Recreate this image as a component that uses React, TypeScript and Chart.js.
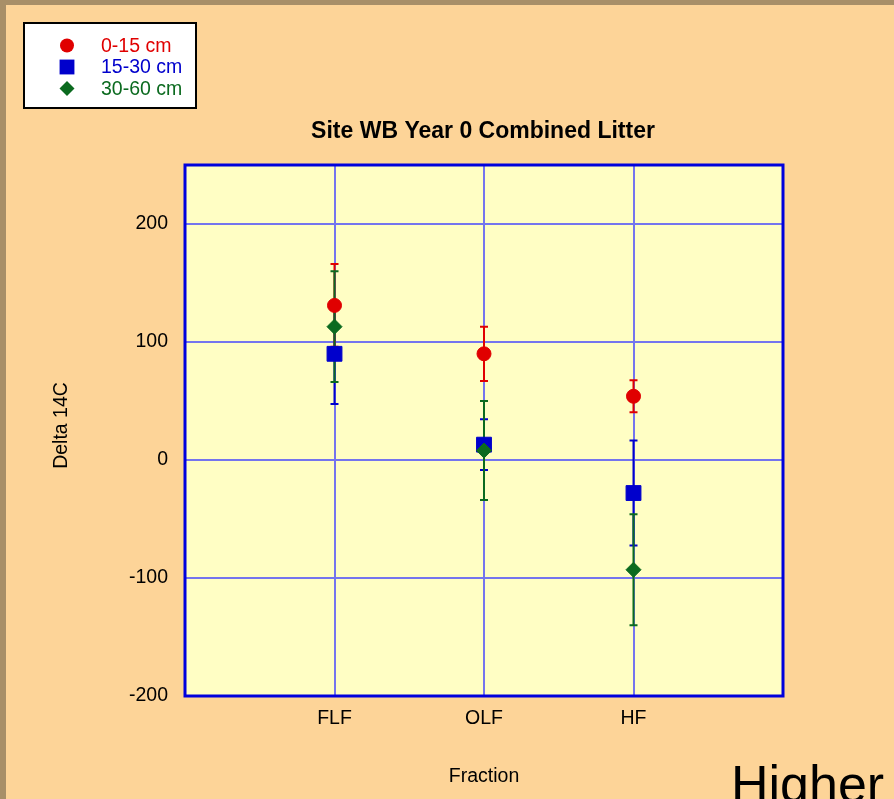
import React, { useEffect, useRef } from 'react';
import { Chart, registerables } from 'chart.js';

Chart.register(...registerables);

const categories = ['FLF', 'OLF', 'HF'];
const seriesLabels = ['0-15 cm', '15-30 cm', '30-60 cm'];
const seriesColors = ['#E00000', '#0000CC', '#0B6A1F'];
const seriesShapes = ['circle', 'rect', 'rectRot'];
const depth0to15 = [131, 90, 54];
const depth0to15Err = [35, 23, 13.5];
const depth15to30 = [90, 13, -28];
const depth15to30Err = [42.5, 21.5, 44.5];
const depth30to60 = [113, 8, -93];
const depth30to60Err = [47, 42, 47];
const yTicks = [-200, -100, 0, 100, 200];
const titleText = 'Site WB Year 0 Combined Litter';
const yTitle = 'Delta 14C';
const xTitle = 'Fraction';
const cornerText = 'Higher';

const FONT = '"Liberation Sans", Arial, Helvetica, sans-serif';
const seriesValues = [depth0to15, depth15to30, depth30to60];
const seriesErrors = [depth0to15Err, depth15to30Err, depth30to60Err];
const seriesRadius = [7, 10.5, 7.5];
const seriesOrder = [1, 2, 0];
const errorDrawOrder = [1, 0, 2];

function drawShape(ctx: CanvasRenderingContext2D, shape: string, x: number, y: number, r: number) {
  ctx.beginPath();
  if (shape === 'circle') {
    ctx.arc(x, y, r, 0, Math.PI * 2);
  } else if (shape === 'rect') {
    const s = r * Math.SQRT1_2;
    ctx.rect(x - s, y - s, 2 * s, 2 * s);
  } else {
    ctx.moveTo(x - r, y);
    ctx.lineTo(x, y - r);
    ctx.lineTo(x + r, y);
    ctx.lineTo(x, y + r);
    ctx.closePath();
  }
  ctx.fill();
}

const backgroundPlugin = {
  id: 'bgPlugin',
  beforeDraw(chart: any) {
    const { ctx, width, height, chartArea: a } = chart;
    ctx.save();
    ctx.fillStyle = '#A88F68';
    ctx.fillRect(0, 0, width, height);
    ctx.fillStyle = '#FDD498';
    ctx.fillRect(6, 5, width - 6, height - 5);
    ctx.fillStyle = '#FFFEC4';
    ctx.fillRect(a.left, a.top, a.right - a.left, a.bottom - a.top);
    ctx.restore();
  },
};

const errorBarPlugin = {
  id: 'errorBars',
  beforeDatasetsDraw(chart: any) {
    const { ctx } = chart;
    const xs = chart.scales.x;
    const ys = chart.scales.y;
    ctx.save();
    ctx.lineWidth = 2;
    for (const di of errorDrawOrder) {
      const ds = chart.data.datasets[di];
      ds.data.forEach((p: any, i: number) => {
        const e = seriesErrors[di][i];
        const px = xs.getPixelForValue(p.x);
        const top = ys.getPixelForValue(p.y + e);
        const bot = ys.getPixelForValue(p.y - e);
        ctx.strokeStyle = seriesColors[di];
        ctx.beginPath();
        ctx.moveTo(px, top);
        ctx.lineTo(px, bot);
        ctx.moveTo(px - 4, top);
        ctx.lineTo(px + 4, top);
        ctx.moveTo(px - 4, bot);
        ctx.lineTo(px + 4, bot);
        ctx.stroke();
      });
    }
    ctx.restore();
  },
};

const decorPlugin = {
  id: 'decor',
  afterDraw(chart: any) {
    const { ctx, chartArea: a } = chart;
    ctx.save();
    // plot frame
    ctx.strokeStyle = '#0000DD';
    ctx.lineWidth = 3;
    ctx.strokeRect(a.left, a.top, a.right - a.left, a.bottom - a.top);

    // title
    ctx.fillStyle = '#000';
    ctx.font = `bold 23px ${FONT}`;
    ctx.textAlign = 'center';
    ctx.textBaseline = 'alphabetic';
    ctx.fillText(titleText, (a.left + a.right) / 2 - 1, 138);

    // x title
    ctx.font = `19.5px ${FONT}`;
    ctx.fillText(xTitle, (a.left + a.right) / 2, 782);

    // y title
    ctx.save();
    ctx.translate(67, (a.top + a.bottom) / 2 - 5);
    ctx.rotate(-Math.PI / 2);
    ctx.fillText(yTitle, 0, 0);
    ctx.restore();

    // legend
    ctx.fillStyle = '#FFFFFF';
    ctx.fillRect(24, 23, 172, 85);
    ctx.strokeStyle = '#000';
    ctx.lineWidth = 2;
    ctx.strokeRect(24, 23, 172, 85);
    const rows = [45.5, 67, 88.5];
    ctx.textAlign = 'left';
    ctx.textBaseline = 'middle';
    ctx.font = `19.5px ${FONT}`;
    chart.data.datasets.forEach((ds: any, i: number) => {
      ctx.fillStyle = seriesColors[i];
      drawShape(ctx, seriesShapes[i], 67, rows[i], seriesRadius[i]);
      ctx.fillText(ds.label, 101, rows[i] + 1);
    });

    // corner text
    ctx.fillStyle = '#000';
    ctx.font = `52px ${FONT}`;
    ctx.textAlign = 'left';
    ctx.textBaseline = 'alphabetic';
    ctx.fillText(cornerText, 731, 802);
    ctx.restore();
  },
};

export default function App() {
  const canvasRef = useRef<HTMLCanvasElement | null>(null);

  useEffect(() => {
    if (!canvasRef.current) return;
    const datasets = seriesLabels.map((label, si) => ({
      label,
      data: seriesValues[si].map((v, i) => ({ x: i + 1, y: v })),
      backgroundColor: seriesColors[si],
      borderColor: seriesColors[si],
      borderWidth: 1,
      pointStyle: seriesShapes[si] as any,
      pointRadius: seriesRadius[si],
      pointHoverRadius: seriesRadius[si],
      order: seriesOrder[si],
      showLine: false,
    }));

    const chart = new Chart(canvasRef.current, {
      type: 'scatter',
      data: { datasets },
      options: {
        animation: false,
        responsive: false,
        maintainAspectRatio: false,
        events: [],
        layout: { padding: { top: 165, right: 111, left: 0, bottom: 0 } },
        plugins: {
          legend: { display: false },
          title: { display: false },
          tooltip: { enabled: false },
        },
        scales: {
          x: {
            type: 'linear',
            min: 0,
            max: 4,
            afterFit(scale: any) {
              scale.height = 103;
            },
            afterBuildTicks(scale: any) {
              scale.ticks = categories.map((_, i) => ({ value: i + 1 }));
            },
            ticks: {
              color: '#000',
              font: { family: FONT, size: 19.5 },
              padding: 11,
              maxRotation: 0,
              autoSkip: false,
              callback: (v: any) => categories[Number(v) - 1] ?? '',
            },
            grid: { color: '#7474EE', lineWidth: 2, drawTicks: false },
            border: { display: false },
          },
          y: {
            type: 'linear',
            min: -200,
            max: 250,
            afterFit(scale: any) {
              scale.width = 185;
            },
            afterBuildTicks(scale: any) {
              scale.ticks = yTicks.map((v) => ({ value: v }));
            },
            ticks: {
              color: '#000',
              font: { family: FONT, size: 19.5 },
              padding: 17,
              autoSkip: false,
            },
            grid: { color: '#7474EE', lineWidth: 2, drawTicks: false },
            border: { display: false },
          },
        },
      },
      plugins: [backgroundPlugin, errorBarPlugin, decorPlugin],
    });
    return () => chart.destroy();
  }, []);

  return (
    <div style={{ position: 'fixed', left: 0, top: 0, width: 894, height: 799, overflow: 'hidden' }}>
      <canvas ref={canvasRef} width={894} height={799} style={{ display: 'block', width: 894, height: 799 }} />
    </div>
  );
}
